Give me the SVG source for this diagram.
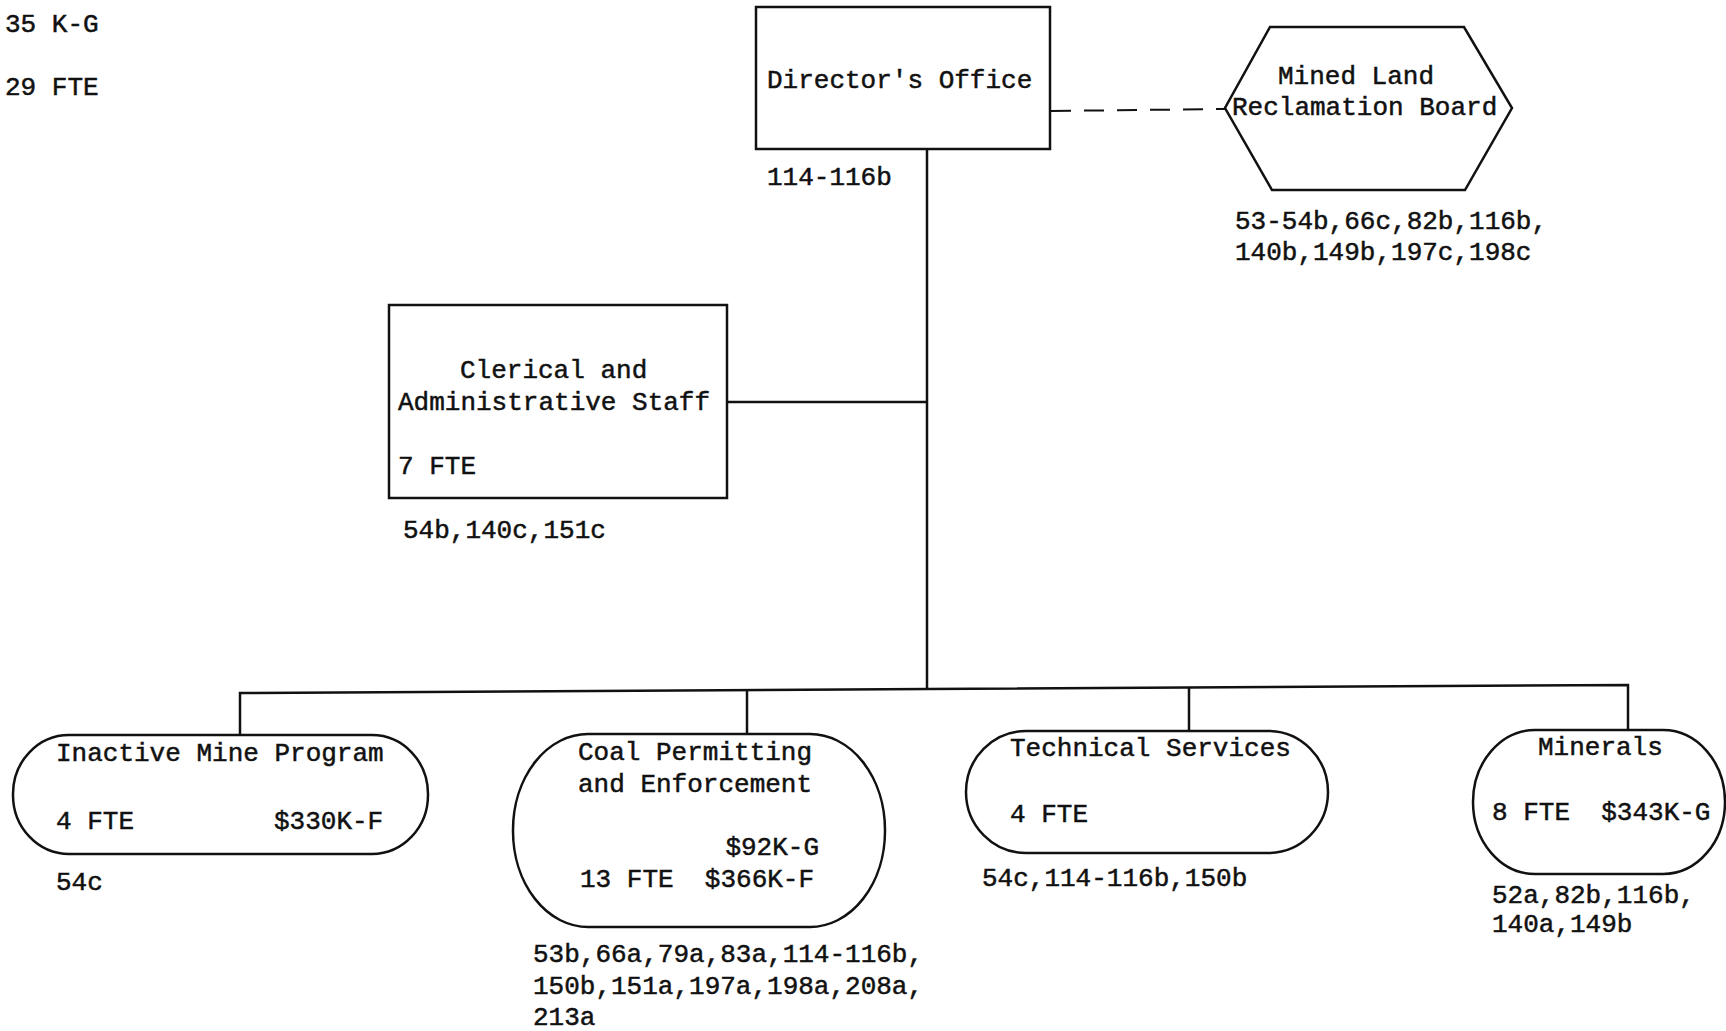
<svg xmlns="http://www.w3.org/2000/svg" width="1726" height="1031" viewBox="0 0 1726 1031">
<style>
.t{font-family:"Liberation Mono","DejaVu Sans Mono",monospace;font-size:26px;fill:#111;stroke:#111;stroke-width:0.5;white-space:pre}
.s{fill:#fff;stroke:#111;stroke-width:2.5}
.c{fill:none;stroke:#111;stroke-width:2.5}
.d{fill:none;stroke:#111;stroke-width:2;stroke-dasharray:20 13}
</style>
<rect width="1726" height="1031" fill="#fff"/>
<g id="summary">
<text class="t" x="5" y="32">35 K-G</text>
<text class="t" x="5" y="95">29 FTE</text>
</g>
<g id="connectors">
<line class="c" x1="927" y1="150" x2="927" y2="690"/>
<line class="c" x1="727" y1="402" x2="927" y2="402"/>
<line class="d" x1="1051" y1="111" x2="1225" y2="109"/>
<polyline class="c" points="240,735 240,693 927,689 1628,685 1628,730"/>
<line class="c" x1="747" y1="690" x2="747" y2="734"/>
<line class="c" x1="1189" y1="687" x2="1189" y2="731"/>
</g>
<g id="director">
<rect class="s" x="756" y="7" width="294" height="142"/>
<text class="t" x="767" y="88">Director's Office</text>
<text class="t" x="767" y="185">114-116b</text>
</g>
<g id="board">
<polygon class="s" points="1270,27 1464,27 1512,108 1465,190 1272,190 1225,108"/>
<text class="t" x="1278" y="84">Mined Land</text>
<text class="t" x="1232" y="115">Reclamation Board</text>
<text class="t" x="1235" y="229">53-54b,66c,82b,116b,</text>
<text class="t" x="1235" y="260">140b,149b,197c,198c</text>
</g>
<g id="clerical">
<rect class="s" x="389" y="305" width="338" height="193"/>
<text class="t" x="460" y="378">Clerical and</text>
<text class="t" x="398" y="410">Administrative Staff</text>
<text class="t" x="398" y="474">7 FTE</text>
<text class="t" x="403" y="538">54b,140c,151c</text>
</g>
<g id="inactive">
<rect class="s" x="13" y="735" width="415" height="119" rx="56" ry="59"/>
<text class="t" x="56" y="761">Inactive Mine Program</text>
<text class="t" x="56" y="829">4 FTE</text>
<text class="t" x="274" y="829">$330K-F</text>
<text class="t" x="56" y="890">54c</text>
</g>
<g id="coal">
<rect class="s" x="513" y="734" width="372" height="193" rx="75" ry="96"/>
<text class="t" x="578" y="760">Coal Permitting</text>
<text class="t" x="578" y="792">and Enforcement</text>
<text class="t" x="819" y="855" text-anchor="end">$92K-G</text>
<text class="t" x="580" y="887">13 FTE  $366K-F</text>
<text class="t" x="533" y="962">53b,66a,79a,83a,114-116b,</text>
<text class="t" x="533" y="994">150b,151a,197a,198a,208a,</text>
<text class="t" x="533" y="1025">213a</text>
</g>
<g id="technical">
<rect class="s" x="966" y="731" width="362" height="122" rx="60" ry="61"/>
<text class="t" x="1010" y="756">Technical Services</text>
<text class="t" x="1010" y="822">4 FTE</text>
<text class="t" x="982" y="886">54c,114-116b,150b</text>
</g>
<g id="minerals">
<rect class="s" x="1473" y="730" width="252" height="144" rx="62" ry="72"/>
<text class="t" x="1538" y="755">Minerals</text>
<text class="t" x="1492" y="820">8 FTE  $343K-G</text>
<text class="t" x="1492" y="903">52a,82b,116b,</text>
<text class="t" x="1492" y="932">140a,149b</text>
</g>
</svg>
